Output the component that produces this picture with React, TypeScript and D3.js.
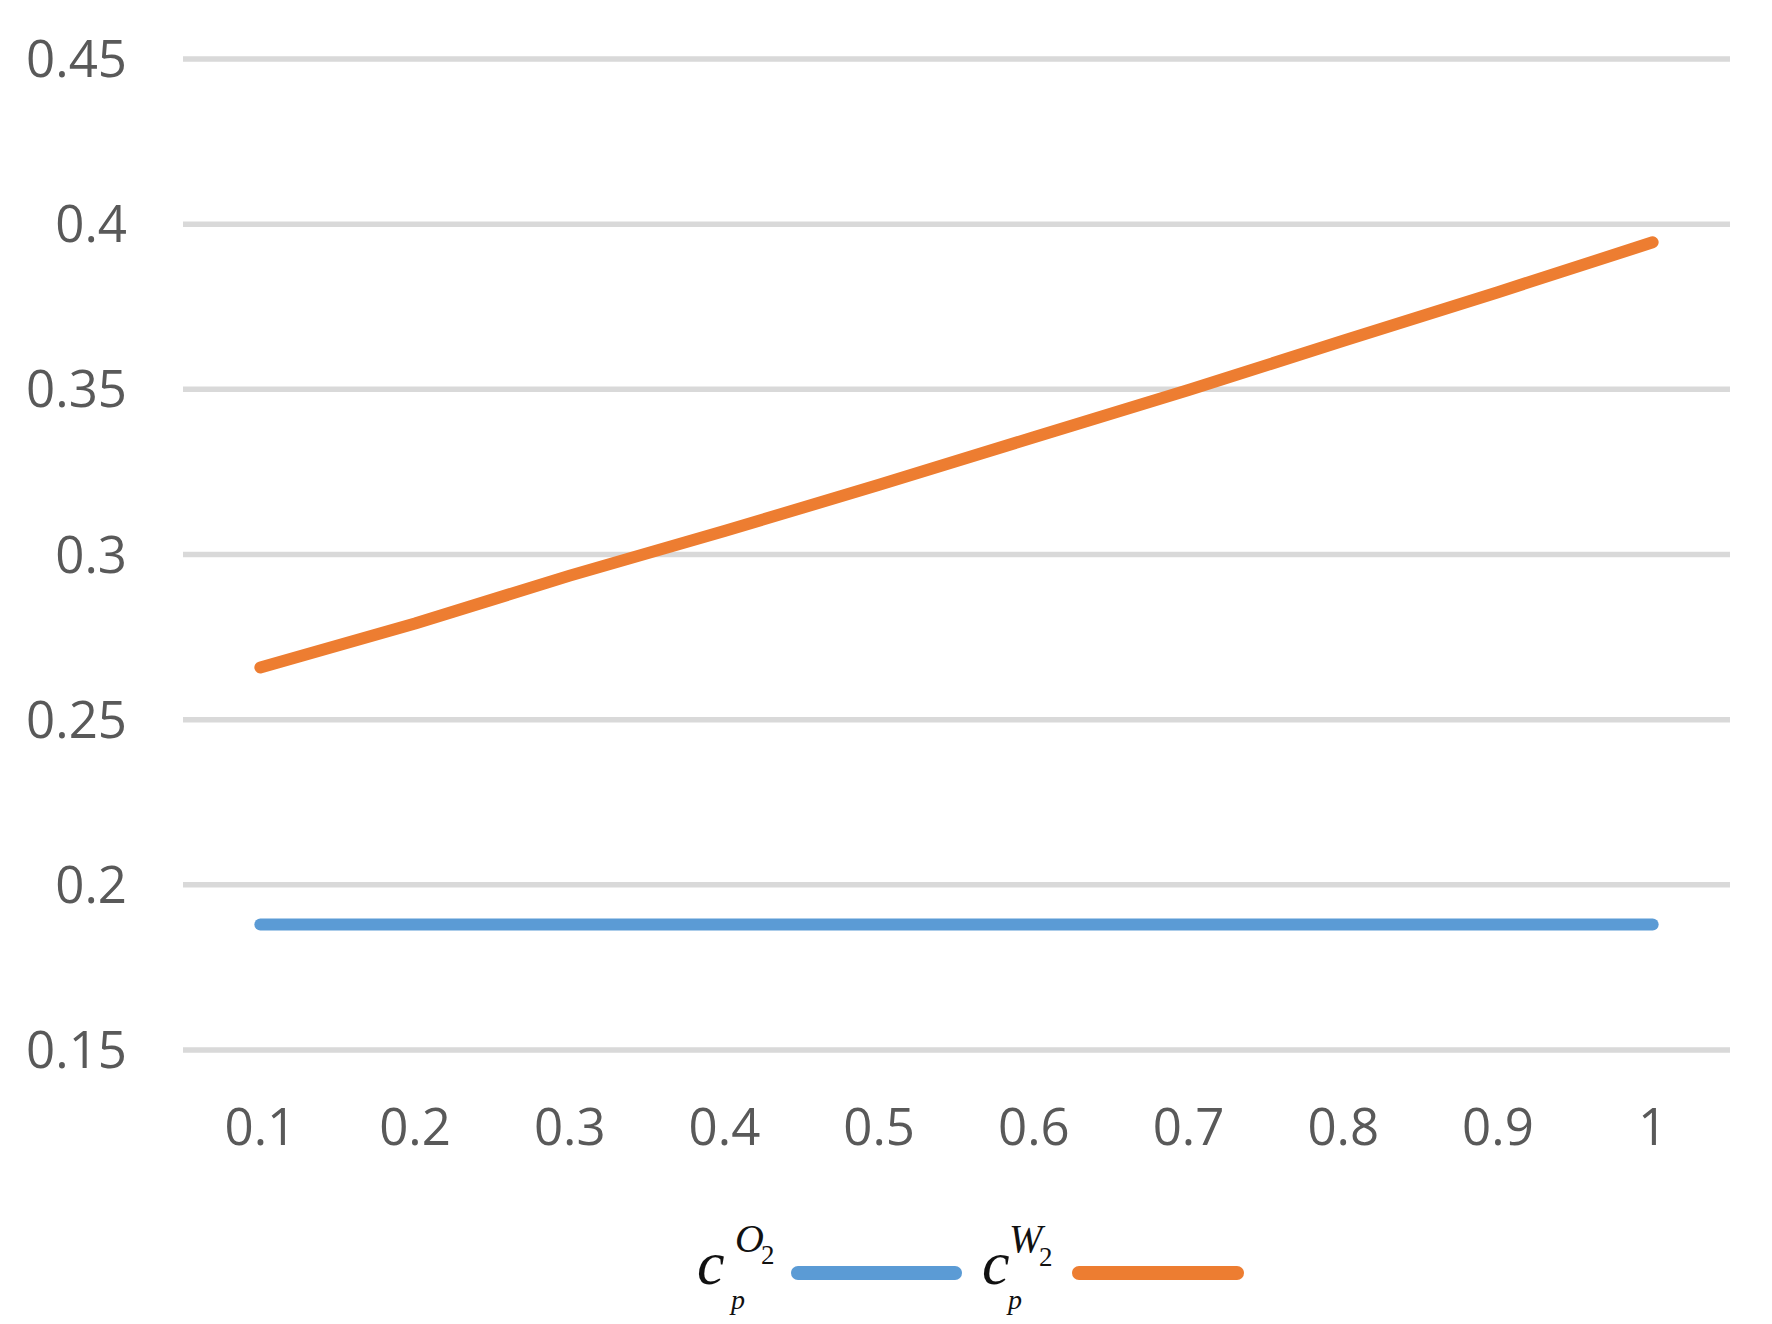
import React from "react";
import * as d3 from "d3";

const categories = ["0.1", "0.2", "0.3", "0.4", "0.5", "0.6", "0.7", "0.8", "0.9", "1"];
const seriesO2 = [0.188, 0.188, 0.188, 0.188, 0.188, 0.188, 0.188, 0.188, 0.188, 0.188];
const seriesW2 = [0.2658, 0.2791, 0.2936, 0.3071, 0.3211, 0.3355, 0.3498, 0.3647, 0.3794, 0.3945];
const yTicks = [0.15, 0.2, 0.25, 0.3, 0.35, 0.4, 0.45];

const width = 1772,
  height = 1324;

const blue = "#5b9bd5";
const orange = "#ed7d31";
const tickFont = "'Open Sans', 'Noto Sans', sans-serif";
const mathFont = "'Liberation Serif', 'Times New Roman', serif";

const x = d3.scaleBand<string>().domain(categories).range([183, 1730]).padding(0);
const y = d3.scaleLinear().domain([0.15, 0.45]).range([1050, 59]);

const line = d3
  .line<number>()
  .x((d, i) => x(categories[i])! + x.bandwidth() / 2)
  .y(d => y(d));

// c_p^{X_2} drawn with tspans; offsets are per label
function LegendLabel(props: { left: number; sup: string; supDx: number; twoDx: number; twoY: number; pDx: number }) {
  const l = props.left;
  return (
    <text fontFamily={mathFont} fill="#111">
      <tspan x={l} y={1284} fontSize={62} fontStyle="italic">c</tspan>
      <tspan x={l + props.supDx} y={1252} fontSize={40} fontStyle="italic">{props.sup}</tspan>
      <tspan x={l + props.twoDx} y={props.twoY} fontSize={27}>2</tspan>
      <tspan x={l + props.pDx} y={1309} fontSize={28} fontStyle="italic">p</tspan>
    </text>
  );
}

export default function App() {
  return (
    <svg
      width={width}
      height={height}
      style={{ position: "absolute", left: 0, top: 0, background: "#fff" }}
    >
      <rect width={width} height={height} fill="#fff" />
      <g>
        {yTicks.map(t => (
          <g key={t}>
            <line x1={183} x2={1730} y1={y(t)} y2={y(t)} stroke="#d9d9d9" strokeWidth={5.5} />
            <text
              x={127}
              y={y(t) + 18}
              textAnchor="end"
              fontFamily={tickFont}
              fontSize={51}
              fill="#595959"
            >
              {String(t)}
            </text>
          </g>
        ))}
      </g>
      <g>
        {categories.map(c => (
          <text
            key={c}
            x={x(c)! + x.bandwidth() / 2}
            y={1145}
            textAnchor="middle"
            fontFamily={tickFont}
            fontSize={51}
            fill="#595959"
          >
            {c}
          </text>
        ))}
      </g>
      <path d={line(seriesO2)!} fill="none" stroke={blue} strokeWidth={12} strokeLinecap="round" strokeLinejoin="round" />
      <path d={line(seriesW2)!} fill="none" stroke={orange} strokeWidth={12} strokeLinecap="round" strokeLinejoin="round" />

      <LegendLabel left={697} sup="O" supDx={38} twoDx={64} twoY={1264} pDx={34} />
      <line x1={798} x2={955} y1={1273} y2={1273} stroke={blue} strokeWidth={14} strokeLinecap="round" />
      <LegendLabel left={982} sup="W" supDx={27} twoDx={57} twoY={1266} pDx={26} />
      <line x1={1079} x2={1237} y1={1273} y2={1273} stroke={orange} strokeWidth={14} strokeLinecap="round" />
    </svg>
  );
}
